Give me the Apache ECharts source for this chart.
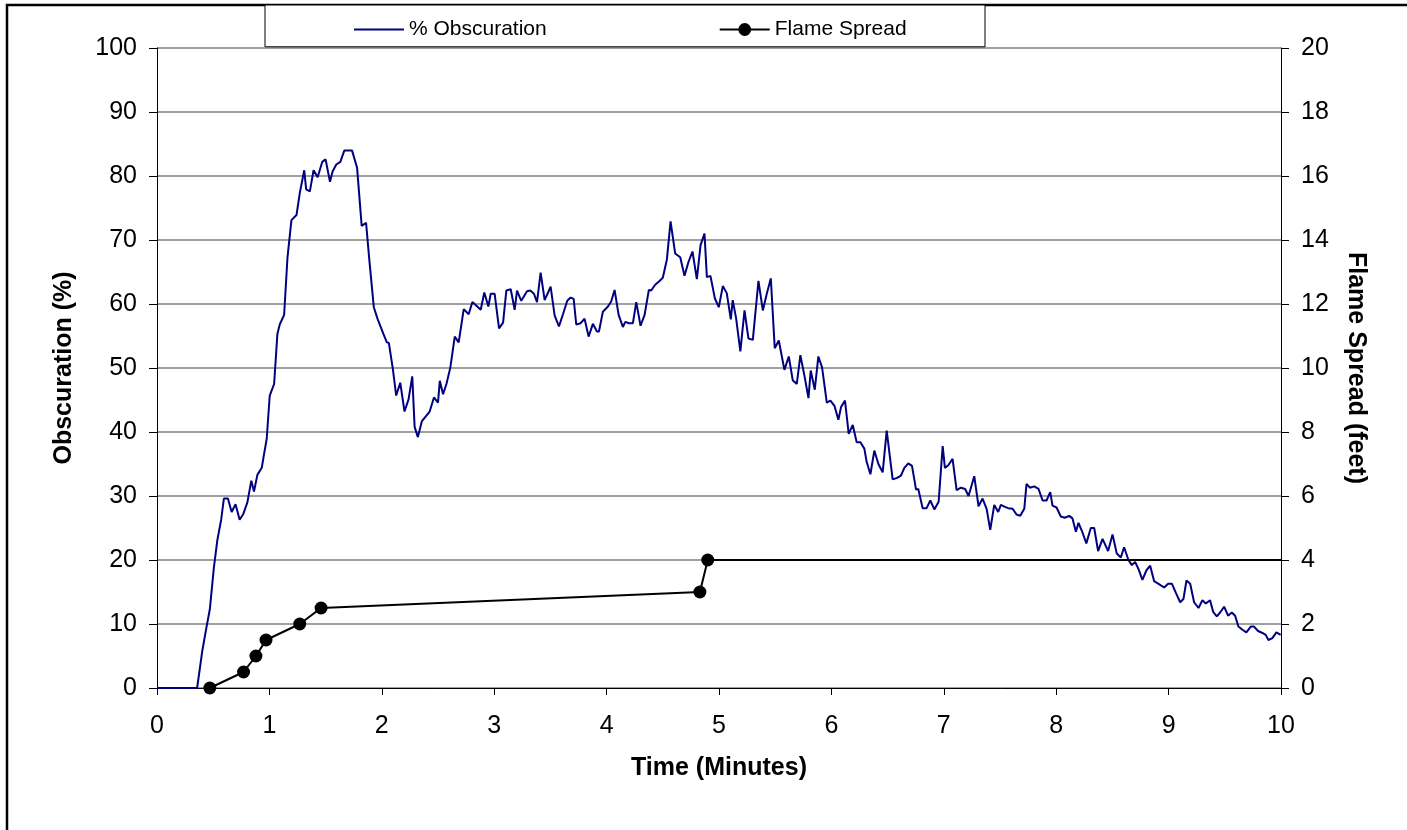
<!DOCTYPE html>
<html>
<head>
<meta charset="utf-8">
<script src="https://cdn.jsdelivr.net/npm/echarts@6/dist/echarts.min.js"></script>
<style>
html,body{margin:0;padding:0;background:#fff;}
#chart{width:1407px;height:830px;}
</style>
</head>
<body>
<div id="chart"></div>
<script>
// Time (minutes) and % obscuration
var obsTime = [0,0.357,0.402,0.432,0.470,0.506,0.536,0.571,0.595,0.631,0.664,0.699,0.735,0.768,0.804,0.839,0.863,0.893,0.932,0.952,0.976,1.003,1.042,1.071,1.092,1.131,1.161,1.196,1.241,1.271,1.310,1.327,1.360,1.393,1.429,1.470,1.500,1.539,1.562,1.595,1.631,1.667,1.735,1.780,1.821,1.860,1.890,1.929,1.964,2.015,2.045,2.063,2.098,2.128,2.164,2.202,2.238,2.271,2.292,2.321,2.357,2.426,2.464,2.500,
2.516,2.545,2.575,2.61,2.649,2.684,2.729,2.773,2.806,2.88,2.912,2.948,2.969,3.004,3.043,3.079,3.108,3.147,3.182,3.203,3.241,3.292,3.321,3.354,3.381,3.413,3.449,3.502,3.538,3.576,3.612,3.65,3.68,3.707,3.73,3.769,3.804,3.84,
3.878,3.914,3.932,3.967,4.012,4.041,4.071,4.107,4.145,4.166,4.199,4.234,4.264,4.302,4.338,4.376,4.397,4.432,4.471,4.5,4.536,4.569,4.61,4.655,4.693,4.729,4.764,4.803,4.836,4.871,4.892,4.924,4.963,4.998,5.034,5.069,5.105,5.122,5.152,5.19,
5.227,5.262,5.301,5.351,5.39,5.425,5.461,5.496,5.532,5.582,5.621,5.656,5.692,5.724,5.76,5.796,5.816,5.852,5.884,5.917,5.959,5.991,6.027,6.062,6.086,6.121,6.154,6.19,6.225,6.258,6.293,6.314,6.347,6.382,6.418,6.456,6.492,
6.545,6.58,6.619,6.649,6.684,6.717,6.753,6.773,6.812,6.847,6.88,6.916,6.954,6.99,7.01,7.04,7.078,7.114,7.152,7.19,7.22,7.271,7.309,7.345,7.381,7.413,7.449,7.484,7.508,7.544,7.573,7.612,7.647,7.68,7.716,7.736,7.766,7.804,7.843,7.879,7.914,
7.947,7.967,8.003,8.041,8.076,8.116,8.145,8.175,8.198,8.234,8.268,8.308,8.338,8.373,8.412,8.462,8.501,8.539,8.575,8.604,8.643,8.673,8.702,8.732,8.767,8.803,8.836,8.871,8.907,
8.96,8.996,9.029,9.064,9.103,9.132,9.159,9.192,9.227,9.266,9.301,9.331,9.369,9.396,9.429,9.458,9.494,9.529,9.562,9.592,9.621,9.657,9.692,9.731,9.76,9.796,9.835,9.864,9.888,9.923,9.959,9.997];
var obsValue = [0,0,5.7,8.7,12.3,18.8,23.0,26.3,29.6,29.6,27.5,28.7,26.3,27.2,29.0,32.4,30.7,33.3,34.4,36.5,38.9,45.7,47.5,55.3,56.8,58.3,67.3,73.1,73.9,77.4,80.9,77.9,77.6,80.9,79.8,82.2,82.6,79.1,80.7,81.8,82.2,84.0,84.0,81.3,72.2,72.7,66.7,59.5,57.6,55.3,54.0,53.9,49.9,45.7,47.7,43.2,45.1,48.7,40.8,39.2,41.7,43.2,45.4,44.6,
48.0,45.9,47.5,50.1,54.9,54.0,59.2,58.4,60.3,59.1,61.8,59.6,61.6,61.6,56.2,57.1,62.1,62.3,59.1,62.1,60.5,62.0,62.1,61.6,60.3,64.9,60.6,62.7,58.2,56.5,58.4,60.5,61.0,60.8,56.8,57.0,57.7,54.9,
56.9,55.7,55.7,58.8,59.6,60.4,62.2,58.3,56.4,57.2,57.0,57.0,60.3,56.6,58.3,62.2,62.1,63.0,63.6,64.1,66.9,72.9,67.9,67.3,64.4,66.6,68.2,63.9,69.2,71.0,64.2,64.4,60.9,59.5,62.8,61.7,57.6,60.6,57.8,52.6,
59.0,54.6,54.4,63.6,59.0,61.6,64.0,53.1,54.3,49.7,51.8,48.1,47.5,52.0,48.8,45.3,49.6,46.6,51.8,50.1,44.6,44.9,44.1,41.9,43.9,44.9,39.7,41.1,38.4,38.4,37.4,35.3,33.4,37.1,35.0,33.7,40.2,
32.6,32.8,33.2,34.4,35.1,34.7,31.0,31.1,28.1,28.1,29.3,27.9,29.1,37.8,34.4,34.8,35.8,30.9,31.3,31.1,30.0,33.1,28.4,29.6,28.0,24.7,28.6,27.5,28.6,28.3,28.1,28.0,27.1,26.9,28.0,31.9,31.3,31.5,31.1,29.3,29.3,
30.6,28.5,28.2,26.8,26.6,26.9,26.5,24.4,25.8,24.3,22.6,25.0,25.0,21.4,23.3,21.4,24.0,21.0,20.4,22.0,20.0,19.2,19.7,18.6,16.9,18.4,19.1,16.7,16.3,
15.7,16.3,16.3,14.9,13.4,13.9,16.8,16.3,13.4,12.5,13.7,13.2,13.7,11.9,11.2,11.8,12.7,11.3,11.8,11.3,9.6,9.1,8.7,9.6,9.6,8.9,8.6,8.3,7.5,7.8,8.7,8.3];

// Flame spread (feet)
var flameTime = [0.47,0.77,0.88,0.97,1.27,1.46,4.83,4.9,10];
var flameValue = [0,0.5,1.0,1.5,2.0,2.5,3.0,4.0,4.0];

var leftTicks = {min:0, max:100, interval:10};
var rightTicks = {min:0, max:20, interval:2};
var xTicks = {min:0, max:10, interval:1};

var FONT = "'Liberation Sans', Arial, sans-serif";

var obsData = obsTime.map(function(t,i){return [t, obsValue[i]];});
var flameData = flameTime.map(function(t,i){
  var p = {value:[t, flameValue[i]]};
  if (i === flameTime.length-1) p.symbol = 'none';
  return p;
});

var chart = echarts.init(document.getElementById('chart'), null, {renderer:'canvas'});
chart.setOption({
  animation:false,
  backgroundColor:'#fff',
  textStyle:{fontFamily:FONT},
  graphic:[
    {type:'rect', z:-10, silent:true, shape:{x:7,y:5,width:1500,height:900}, style:{fill:'none', stroke:'#000', lineWidth:2.5}},
    {type:'rect', z:-5, silent:true, shape:{x:265,y:5,width:720,height:42}, style:{fill:'#fff', stroke:'#000', lineWidth:1}},
    {type:'line', z:-4, silent:true, shape:{x1:266,y1:47,x2:985,y2:47}, style:{stroke:'#333', lineWidth:1.5}}
  ],
  legend:{
    left:348, top:14, z:20,
    itemWidth:50, itemHeight:16, itemGap:172,
    textStyle:{fontSize:21, color:'#000', fontFamily:FONT},
    data:[
      {name:'% Obscuration', itemStyle:{opacity:0}},
      {name:'Flame Spread'}
    ]
  },
  grid:{left:157, right:126, top:48, bottom:142, containLabel:false},
  xAxis:{
    type:'value', min:xTicks.min, max:xTicks.max, interval:xTicks.interval,
    name:'Time (Minutes)', nameLocation:'middle', nameGap:68,
    nameTextStyle:{fontSize:25, fontWeight:'bold', color:'#000', fontFamily:FONT},
    axisLine:{show:true, onZero:false, lineStyle:{color:'#000', width:1}},
    axisTick:{show:true, length:7, lineStyle:{color:'#000'}},
    axisLabel:{fontSize:25, color:'#000', margin:26, fontFamily:FONT},
    splitLine:{show:false}
  },
  yAxis:[
    {
      type:'value', min:leftTicks.min, max:leftTicks.max, interval:leftTicks.interval, position:'left',
      name:'Obscuration (%)', nameLocation:'middle', nameGap:80, nameRotate:90,
      nameTextStyle:{fontSize:25, fontWeight:'bold', color:'#000', fontFamily:FONT},
      axisLine:{show:true, lineStyle:{color:'#000', width:1}},
      axisTick:{show:true, length:8, lineStyle:{color:'#000'}},
      axisLabel:{fontSize:25, color:'#000', margin:20, fontFamily:FONT},
      splitLine:{show:true, lineStyle:{color:'#808080', width:1.5}}
    },
    {
      type:'value', min:rightTicks.min, max:rightTicks.max, interval:rightTicks.interval, position:'right',
      name:'Flame Spread (feet)', nameLocation:'middle', nameGap:62, nameRotate:-90,
      nameTextStyle:{fontSize:25, fontWeight:'bold', color:'#000', fontFamily:FONT},
      axisLine:{show:true, lineStyle:{color:'#000', width:1}},
      axisTick:{show:true, length:8, lineStyle:{color:'#000'}},
      axisLabel:{fontSize:25, color:'#000', margin:20, fontFamily:FONT},
      splitLine:{show:false}
    }
  ],
  series:[
    {
      name:'% Obscuration', type:'line', yAxisIndex:0, data:obsData,
      symbol:'none', smooth:false,
      lineStyle:{color:'#000080', width:2}, itemStyle:{color:'#000080'},
      z:3
    },
    {
      name:'Flame Spread', type:'line', yAxisIndex:1, data:flameData,
      symbol:'circle', symbolSize:13, showSymbol:true,
      lineStyle:{color:'#000', width:2}, itemStyle:{color:'#000'},
      z:4
    }
  ]
});
</script>
</body>
</html>
